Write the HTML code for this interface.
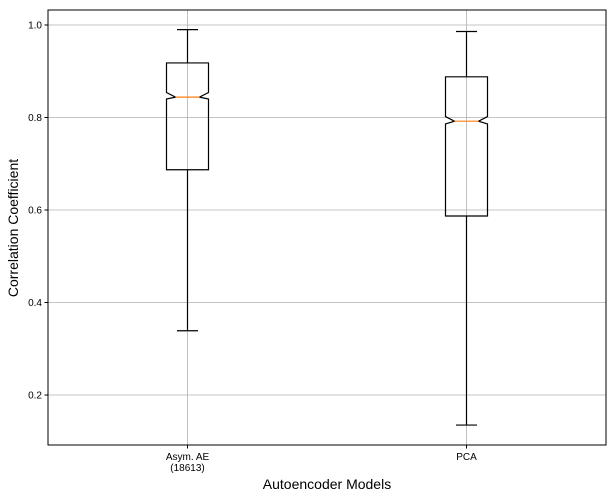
<!DOCTYPE html>
<html><head><meta charset="utf-8"><style>
body{margin:0;background:#fff;}
svg text{font-family:"Liberation Sans","DejaVu Sans",sans-serif;fill:#000;}
</style></head><body>
<svg id="chart" width="616" height="499">
<rect x="0" y="0" width="616" height="499" fill="#fff"/>
<g id="grid"></g>
<g id="boxes"></g>
<rect x="48" y="10" width="558" height="435" fill="none" stroke="#000" stroke-width="1"/>
<g id="yticks"></g>
<g id="xticks"></g>
<text x="327" y="489" text-anchor="middle" font-size="14">Autoencoder Models</text>
<text transform="translate(18,228) rotate(-90)" text-anchor="middle" font-size="14">Correlation Coefficient</text>
</svg>
<script>
const categories=["Asym. AE\n(18613)","PCA"];
const whiskerHigh=[0.99,0.986];
const q3=[0.918,0.888];
const notchHigh=[0.854,0.802];
const median=[0.844,0.792];
const notchLow=[0.840,0.786];
const q1=[0.687,0.587];
const whiskerLow=[0.339,0.135];
const yTicks=[0.2,0.4,0.6,0.8,1.0];
const tickLabels=["0.2","0.4","0.6","0.8","1.0"];

const NS="http://www.w3.org/2000/svg";
function y(v){return 25+(1-v)*462.5;}
function x(i){return 187.5+i*279;}
function mk(tag,attrs,parent){const e=document.createElementNS(NS,tag);for(const k in attrs)e.setAttribute(k,attrs[k]);parent.appendChild(e);return e;}
const grid=document.getElementById('grid'),boxes=document.getElementById('boxes'),yt=document.getElementById('yticks'),xt=document.getElementById('xticks');
yTicks.forEach((v,i)=>{
  const g=mk('line',{x1:48,x2:606,y1:y(v),y2:y(v),stroke:'#b0b0b0','stroke-width':0.8},grid);
  
  
  const t=mk('line',{x1:44.5,x2:48,y1:y(v),y2:y(v),stroke:'#000'},yt);
  
  
  const l=mk('text',{x:42,y:y(v)+3.5,'text-anchor':'end','font-size':10},yt);
  l.textContent=tickLabels[i];
  
  
});
categories.forEach((c,i)=>{
  const cx=x(i);
  const g=mk('line',{x1:cx,x2:cx,y1:10,y2:445,stroke:'#b0b0b0','stroke-width':0.8},grid);
  
  
  const t=mk('line',{x1:cx,x2:cx,y1:445,y2:448.5,stroke:'#000'},xt);
  
  
  c.split("\n").forEach((ln,j)=>{
    const l=mk('text',{x:cx,y:460+j*11,'text-anchor':'middle','font-size':10},xt);
    l.textContent=ln;
    
    
  });
  const g2=mk('g',{},boxes);
  
  
  const L=cx-21,R=cx+21,ins=9;
  const d=`M${L},${y(q3[i])}L${R},${y(q3[i])}L${R},${y(notchHigh[i])}L${R-ins},${y(median[i])}L${R},${y(notchLow[i])}L${R},${y(q1[i])}L${L},${y(q1[i])}L${L},${y(notchLow[i])}L${L+ins},${y(median[i])}L${L},${y(notchHigh[i])}Z`;
  const b=mk('path',{d:d,fill:'none',stroke:'#000','stroke-width':1.2},g2);
  
  
  const m=mk('line',{x1:L+ins,x2:R-ins,y1:y(median[i]),y2:y(median[i]),stroke:'#ff7f0e','stroke-width':1.2},g2);
  
  
  const w1=mk('line',{x1:cx,x2:cx,y1:y(whiskerHigh[i]),y2:y(q3[i]),stroke:'#000','stroke-width':1.2},g2);
  
  
  const w2=mk('line',{x1:cx,x2:cx,y1:y(q1[i]),y2:y(whiskerLow[i]),stroke:'#000','stroke-width':1.2},g2);
  
  
  const c1=mk('line',{x1:cx-10.5,x2:cx+10.5,y1:y(whiskerHigh[i]),y2:y(whiskerHigh[i]),stroke:'#000','stroke-width':1.2},g2);
  
  
  const c2=mk('line',{x1:cx-10.5,x2:cx+10.5,y1:y(whiskerLow[i]),y2:y(whiskerLow[i]),stroke:'#000','stroke-width':1.2},g2);
  
  
});
</script>
</body></html>
